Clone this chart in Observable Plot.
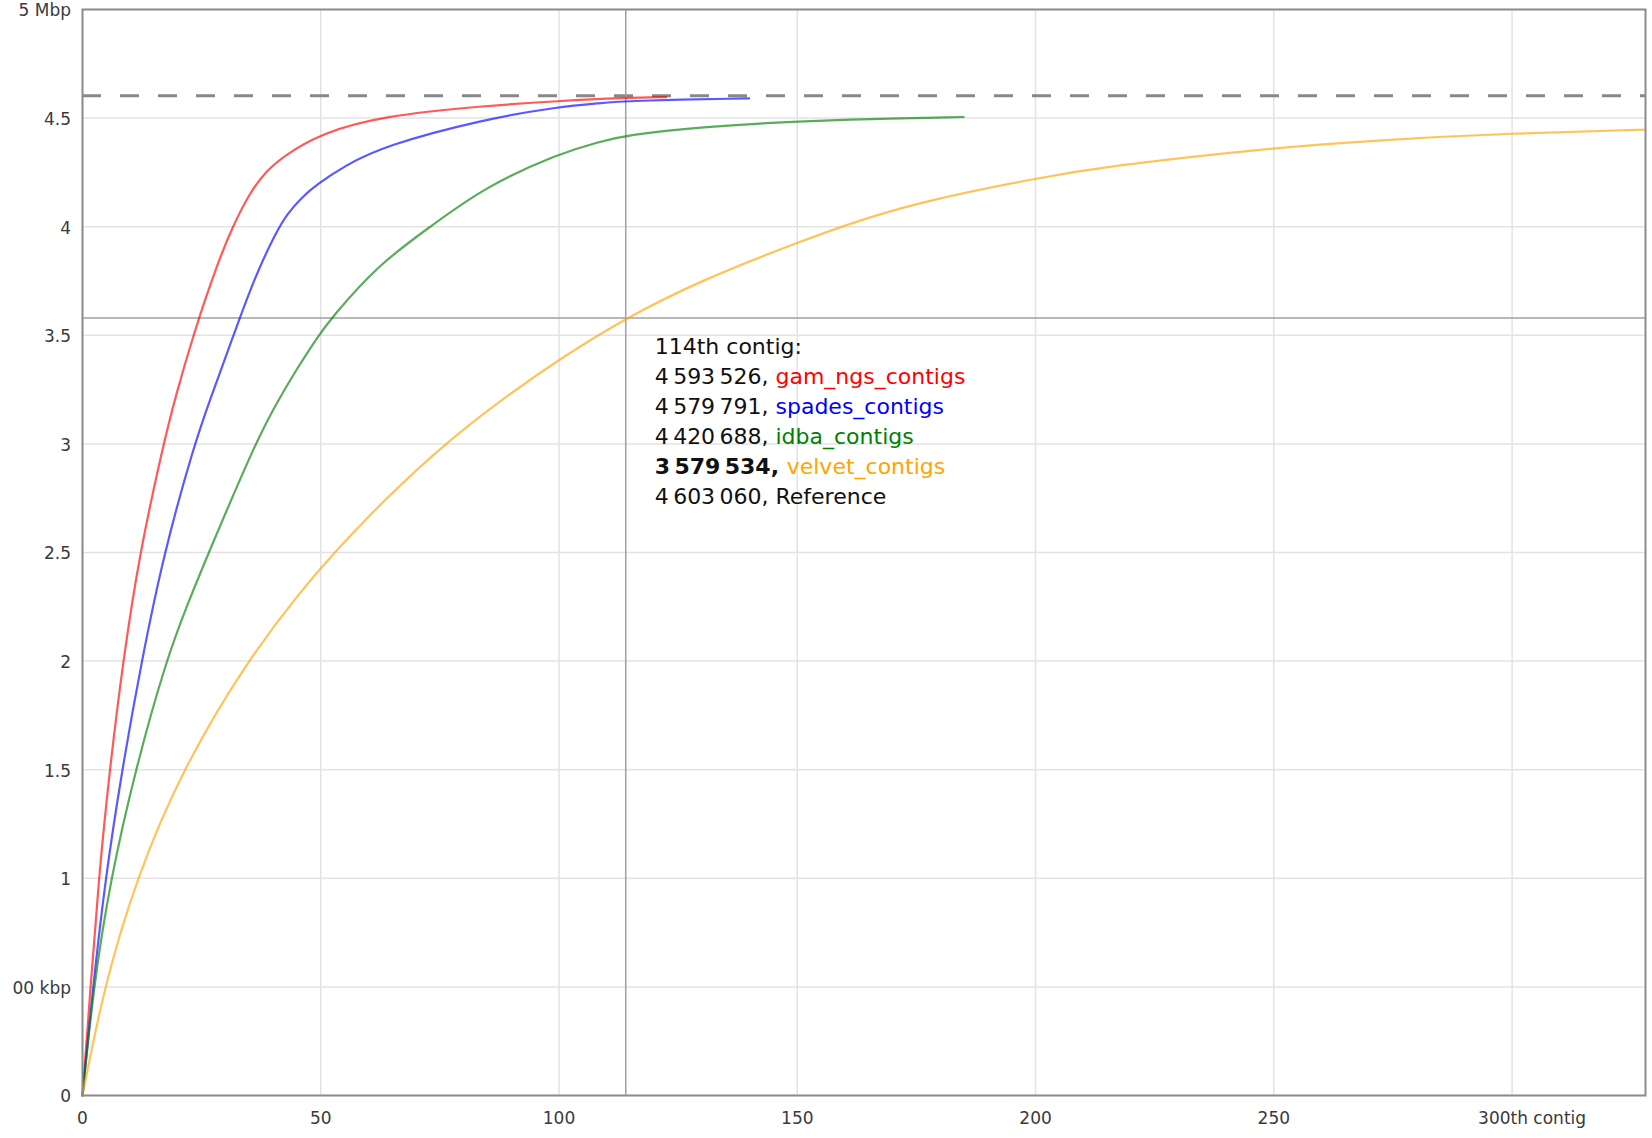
<!DOCTYPE html>
<html>
<head>
<meta charset="utf-8">
<script src="https://cdn.jsdelivr.net/npm/d3@7"></script>
<script src="https://cdn.jsdelivr.net/npm/@observablehq/plot@0.6"></script>
<style>
html, body { margin: 0; padding: 0; background: #fff; }
#chart svg { display: block; max-width: none; }
</style>
</head>
<body>
<div id="chart"></div>
<script>
// ---- data (contig index, cumulative length in Mbp) ----
const seriesNames = ["gam_ngs_contigs", "spades_contigs", "idba_contigs", "velvet_contigs"];
const seriesColors = ["#ff0000", "#0000ff", "#008000", "#ffa500"];

const gamX = [0, 1.7, 3.4, 5.7, 8.5, 12, 17, 19.3, 23.2, 28.3, 31.5, 35.2, 38.5, 42.2, 50, 63, 84, 100, 114, 122.5];
const gamY = [0, 0.5, 1.0, 1.5, 2.0, 2.5, 3.0, 3.2, 3.5, 3.83, 4.0, 4.16, 4.255, 4.325, 4.43, 4.51, 4.556, 4.579, 4.5935, 4.597];

const spadesX = [0, 2.2, 4.8, 8.3, 12.4, 17.1, 23.5, 26.7, 31.7, 36, 40.5, 43, 46, 49.2, 55, 63.2, 84.2, 100, 108.7, 114, 139.9];
const spadesY = [0, 0.5, 1.0, 1.5, 2.0, 2.5, 3.0, 3.2, 3.5, 3.76, 3.97, 4.06, 4.135, 4.195, 4.28, 4.372, 4.495, 4.552, 4.569, 4.5798, 4.591];

const idbaX = [0, 2.3, 5.9, 11.1, 17.5, 22, 26.3, 36.2, 40.5, 45.3, 49.2, 52, 62, 73, 84.2, 100, 108.7, 114, 129.6, 149.9, 164.6, 184.9];
const idbaY = [0, 0.5, 1.0, 1.5, 2.0, 2.26, 2.49, 3.0, 3.18, 3.357, 3.488, 3.574, 3.825, 4.0, 4.18, 4.338, 4.392, 4.4207, 4.46, 4.485, 4.496, 4.505];

const velvetX = [0, 4.5, 11.3, 20.9, 34.2, 45.7, 52.7, 63.2, 75.8, 87.7, 100, 114, 129.6, 149.9, 164.6, 178.6, 200, 213.6, 249.8, 272.7, 299.8, 327.9];
const velvetY = [0, 0.5, 1.0, 1.5, 1.99, 2.32, 2.497, 2.74, 2.996, 3.2, 3.39, 3.5795, 3.751, 3.927, 4.042, 4.128, 4.222, 4.275, 4.364, 4.40, 4.43, 4.447];

const xTicks = [0, 50, 100, 150, 200, 250, 300];
const xTickLabels = ["0", "50", "100", "150", "200", "250", "300th contig"];
const yTicks = [0, 0.5, 1, 1.5, 2, 2.5, 3, 3.5, 4, 4.5, 5];
const yTickLabels = ["0", "00 kbp", "1", "1.5", "2", "2.5", "3", "3.5", "4", "4.5", "5 Mbp"];

const referenceLength = 4.60306; // Mbp
const hoverContig = 114;
const hoverLabel = "114th contig:";
const hoverValues = [4593526, 4579791, 4420688, 3579534];
const hoverBold = [false, false, false, true];
const referenceValue = 4603060;
const referenceName = "Reference";

// ---- build table ----
const xs = [gamX, spadesX, idbaX, velvetX];
const ys = [gamY, spadesY, idbaY, velvetY];
const rows = seriesNames.flatMap((name, i) => xs[i].map((x, j) => ({name, x, y: ys[i][j]})));

const fmt = v => d3.format(",")(v).replace(/,/g, "\u2009");
const hoverY = hoverValues[3] / 1e6;

const FONT = "DejaVu Sans";
const TIP_SIZE = 22;
const ctx = document.createElement("canvas").getContext("2d");
const tw = (s, bold) => { ctx.font = `${bold ? "bold " : ""}${TIP_SIZE}px "${FONT}"`; return ctx.measureText(s).width; };

const tipLines = [
  {left: hoverLabel, right: "", bold: false, color: "#111"},
  ...seriesNames.map((n, i) => ({left: fmt(hoverValues[i]) + ",", right: n, bold: hoverBold[i], color: seriesColors[i]})),
  {left: fmt(referenceValue) + ",", right: referenceName, bold: false, color: "#111"}
];

const TIP_DX = 29, TIP_DY0 = 35.5, TIP_LH = 30;
const tipMarks = tipLines.flatMap((ln, k) => {
  const anchor = [{x: hoverContig, y: hoverY}];
  const m = [Plot.text(anchor, {
    x: "x", y: "y", text: () => ln.left, dx: TIP_DX, dy: TIP_DY0 + TIP_LH * k,
    textAnchor: "start", lineAnchor: "bottom", fontSize: TIP_SIZE,
    fontWeight: ln.bold ? "bold" : "normal", fill: "#111", fontFamily: FONT
  })];
  if (ln.right) {
    const off = tw(ln.left + " ", ln.bold);
    m.push(Plot.text(anchor, {
      x: "x", y: "y", text: () => ln.right, dx: TIP_DX + off, dy: TIP_DY0 + TIP_LH * k,
      textAnchor: "start", lineAnchor: "bottom", fontSize: TIP_SIZE,
      fill: ln.color, fontFamily: FONT
    }));
  }
  return m;
});

const xLab = xTicks.map((t, i) => ({t, label: xTickLabels[i]}));
const yLab = yTicks.map((t, i) => ({t, label: yTickLabels[i]}));

const chart = Plot.plot({
  width: 1652,
  height: 1138,
  marginTop: 9,
  marginBottom: 43,
  marginLeft: 82,
  marginRight: 7,
  style: {fontFamily: FONT, background: "#fff"},
  x: {domain: [0, 328], axis: null},
  y: {domain: [0, 5], axis: null},
  color: {domain: seriesNames, range: seriesColors},
  marks: [
    Plot.gridX(xTicks, {stroke: "#e3e3e3", strokeOpacity: 1, strokeWidth: 1.5}),
    Plot.gridY(yTicks, {stroke: "#e3e3e3", strokeOpacity: 1, strokeWidth: 1.5}),
    Plot.ruleY([referenceLength], {stroke: "#888", strokeWidth: 3, strokeDasharray: "19,19"}),
    Plot.ruleX([hoverContig], {stroke: "#a0a0a0", strokeWidth: 1.5}),
    Plot.ruleY([hoverY], {stroke: "#a0a0a0", strokeWidth: 1.5}),
    Plot.line(rows, {x: "x", y: "y", z: "name", stroke: "name", strokeWidth: 2.2, strokeOpacity: 0.65, curve: "basis"}),
    Plot.frame({stroke: "#8c8c8c", strokeWidth: 2}),
    Plot.text(xLab.filter(d => d.t !== 300), {x: "t", text: "label", frameAnchor: "bottom", dy: 23.5, lineAnchor: "middle", fontSize: 17, fill: "#3a3a3a"}),
    Plot.text(xLab.filter(d => d.t === 300), {x: "t", text: "label", frameAnchor: "bottom", dy: 23.5, dx: 20, lineAnchor: "middle", fontSize: 17, fill: "#3a3a3a"}),
    Plot.text(yLab, {y: "t", text: "label", frameAnchor: "left", textAnchor: "end", dx: -11.5, dy: 1.5, lineAnchor: "middle", fontSize: 17, fill: "#3a3a3a"}),
    ...tipMarks
  ]
});
document.getElementById("chart").appendChild(chart);
</script>
</body>
</html>
